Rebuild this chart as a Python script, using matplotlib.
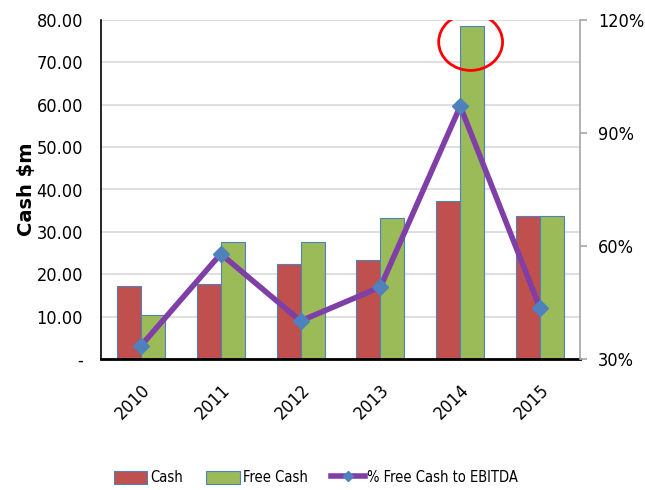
import matplotlib
matplotlib.use("Agg")
import matplotlib.pyplot as plt
from matplotlib.patches import Ellipse
from matplotlib.lines import Line2D
from matplotlib.ticker import FixedLocator
from matplotlib import font_manager as fm
import numpy as np

years = ["2010", "2011", "2012", "2013", "2014", "2015"]
cash = [17.2, 17.7, 22.4, 23.3, 37.3, 33.7]
free_cash = [10.4, 27.6, 27.6, 33.2, 78.5, 33.7]
pct_free_to_ebitda = [33.5, 57.9, 40.1, 49.1, 97.1, 43.5]
left_ticks = [0, 10, 20, 30, 40, 50, 60, 70, 80]
left_labels = ["-", "10.00", "20.00", "30.00", "40.00", "50.00", "60.00", "70.00", "80.00"]
right_ticks = [30, 60, 90, 120]
right_labels = ["30%", "60%", "90%", "120%"]

# find a condensed font if available
cond_file = None
for f in fm.fontManager.ttflist:
    n = f.fname.lower()
    if ("narrow" in n or "condensed" in n) and "bold" not in n and "oblique" not in n and "italic" not in n:
        cond_file = f.fname
        break
if cond_file:
    NARROW = fm.FontProperties(fname=cond_file)
    small = 13
else:
    NARROW = fm.FontProperties(family="Liberation Sans")
    small = 11.5

def fp(size):
    p = NARROW.copy()
    p.set_size(size)
    return p

LINE_COLOR = "#7F3FA6"
MARK_COLOR = "#4F81BD"

fig = plt.figure(figsize=(6.45, 4.9), dpi=100)
ax = fig.add_axes([101/645, 1-359/490, (580-101)/645, (359-20)/490])
x = np.arange(len(years))
w = 0.3
b1 = ax.bar(x - w/2, cash, w, color="#C0504D", edgecolor="#4F81BD", linewidth=0.8, label="Cash", zorder=2)
b2 = ax.bar(x + w/2, free_cash, w, color="#9BBB59", edgecolor="#4F81BD", linewidth=0.8, label="Free Cash", zorder=2)
ax.set_xlim(-0.5, len(years) - 0.5)
ax.set_ylim(0, 80)
ax.yaxis.set_major_locator(FixedLocator(left_ticks))
ax.set_yticklabels(left_labels, fontproperties=fp(small))
ax.tick_params(axis="y", length=0, pad=13)
ax.set_xticks(x)
ax.set_xticklabels(years, rotation=45, ha="right", rotation_mode="anchor", fontproperties=fp(small))
ax.tick_params(axis="x", length=0, pad=16)
ax.grid(axis="y", color="#D9D9D9", linewidth=1.2, zorder=0)
ax.set_axisbelow(True)
ax.spines["top"].set_visible(False)
ax.spines["right"].set_visible(False)
ax.spines["left"].set_color("black")
ax.spines["left"].set_linewidth(1.2)
ax.spines["bottom"].set_color("black")
ax.spines["bottom"].set_linewidth(2)
ax.set_ylabel("Cash $m", fontsize=14, fontweight="bold", family=["DejaVu Sans"])
ax.yaxis.set_label_coords(-0.135, 0.5)

ax2 = ax.twinx()
ax2.plot(x, pct_free_to_ebitda, color=LINE_COLOR, linewidth=4, marker="D", markersize=8,
         markerfacecolor=MARK_COLOR, markeredgecolor=MARK_COLOR, zorder=3)
ax2.set_ylim(30, 120)
ax2.yaxis.set_major_locator(FixedLocator(right_ticks))
ax2.set_yticklabels(right_labels, fontproperties=fp(small))
ax2.tick_params(axis="y", length=5, color="#A6A6A6", width=1.2, pad=8)
ax2.spines["top"].set_visible(False)
ax2.spines["left"].set_visible(False)
ax2.spines["bottom"].set_visible(False)
ax2.spines["right"].set_color("#A6A6A6")
ax2.spines["right"].set_linewidth(1.2)

ell = Ellipse((4.13, 74.8), 0.80, 13.4, fill=False, edgecolor="red", linewidth=2, zorder=5)
ax.add_patch(ell)

line_proxy = Line2D([], [], color=LINE_COLOR, linewidth=4, marker="D", markersize=5,
                    markerfacecolor=MARK_COLOR, markeredgecolor=MARK_COLOR)
fig.legend([b1, b2, line_proxy], ["Cash", "Free Cash", "% Free Cash to EBITDA"],
           loc="center", bbox_to_anchor=(0.49, 0.025), ncol=3, frameon=False,
           prop=fp(small - 2.5), handlelength=2.3, handleheight=1.0, columnspacing=1.6,
           handletextpad=0.2)

fig.savefig("out.png", dpi=100)
